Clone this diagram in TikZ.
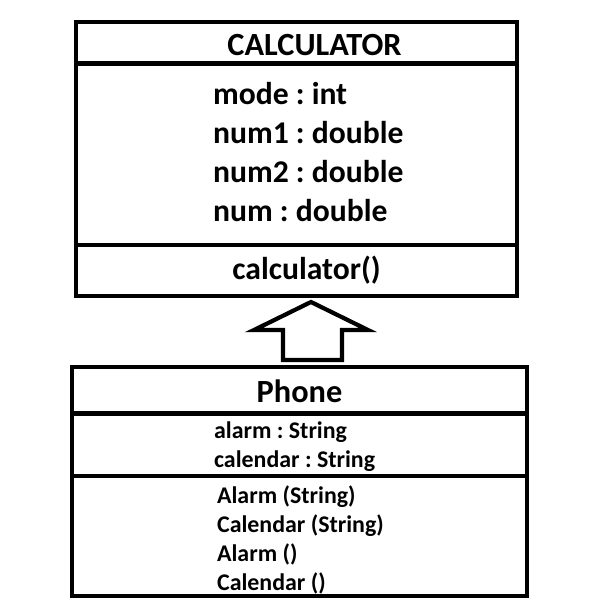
\documentclass[tikz,border=0pt]{standalone}
\usepackage{fontspec}
\setmainfont{Carlito}
\usetikzlibrary{positioning}
\frenchspacing

\begin{document}
\begin{tikzpicture}[node distance = 0cm, line width = 3pt,
        part/.style = {rectangle, draw, outer sep = 0pt, inner sep = 0pt},
        titletext/.style = {inner sep = 0pt, font = \fontsize{23}{27.7}\selectfont\bfseries},
        bigtext/.style = {inner sep = 0pt, font = \fontsize{22.5}{27.7}\selectfont\bfseries},
        smalltext/.style = {inner sep = 0pt, align = left, font = \fontsize{17}{20.6}\selectfont\bfseries},
        hollow/.style = {draw, fill = white, line join = miter}]

    \useasboundingbox (0, 0) rectangle (15, -15);

    % clase CALCULATOR
    \node[part, minimum width = 11.025cm, minimum height = 1.0375cm, anchor = north west] (calchead) at (1.9, -0.55) {};
    \node[part, minimum width = 11.025cm, minimum height = 4.5375cm] (calcattr) [below = of calchead] {};
    \node[part, minimum width = 11.025cm, minimum height = 1.275cm] (calcmeth) [below = of calcattr] {};

    \node[titletext, xshift = 0.45cm, yshift = -0.05cm] (calcname) at (calchead) {CALCULATOR};
    \node[bigtext, align = left, right = 3.375cm of calcattr.west, yshift = 0.06cm] (calcattrs)
        {mode : int\\num1 : double\\num2 : double\\num : double};
    \node[bigtext, xshift = 0.25cm] (calcmeths) at (calcmeth) {calculator()};

    % clase Phone
    \node[part, minimum width = 11.375cm, minimum height = 1.1625cm, anchor = north west] (phonehead) at (1.8, -9.175) {};
    \node[part, minimum width = 11.375cm, minimum height = 1.5625cm] (phoneattr) [below = of phonehead] {};
    \node[part, minimum width = 11.375cm, minimum height = 3.0cm] (phonemeth) [below = of phoneattr] {};

    \node[titletext, yshift = -0.03cm] (phonename) at (phonehead) {Phone};
    \node[smalltext, right = 3.5cm of phoneattr.west, yshift = -0.045cm] (phoneattrs)
        {alarm : String\\calendar : String};
    \node[smalltext, right = 3.575cm of phonemeth.west, yshift = -0.09cm] (phonemeths)
        {Alarm (String)\\Calendar (String)\\Alarm ()\\Calendar ()};

    % herencia: Phone -> CALCULATOR
    \draw[hollow] ([xshift = 0.3625cm, yshift = -0.15cm]calcmeth.south)
        -- ++(1.425, -0.7) -- ++(-0.65, 0) -- ++(0, -0.75)
        -- ++(-1.475, 0) -- ++(0, 0.75) -- ++(-0.725, 0) -- cycle;
\end{tikzpicture}
\end{document}
